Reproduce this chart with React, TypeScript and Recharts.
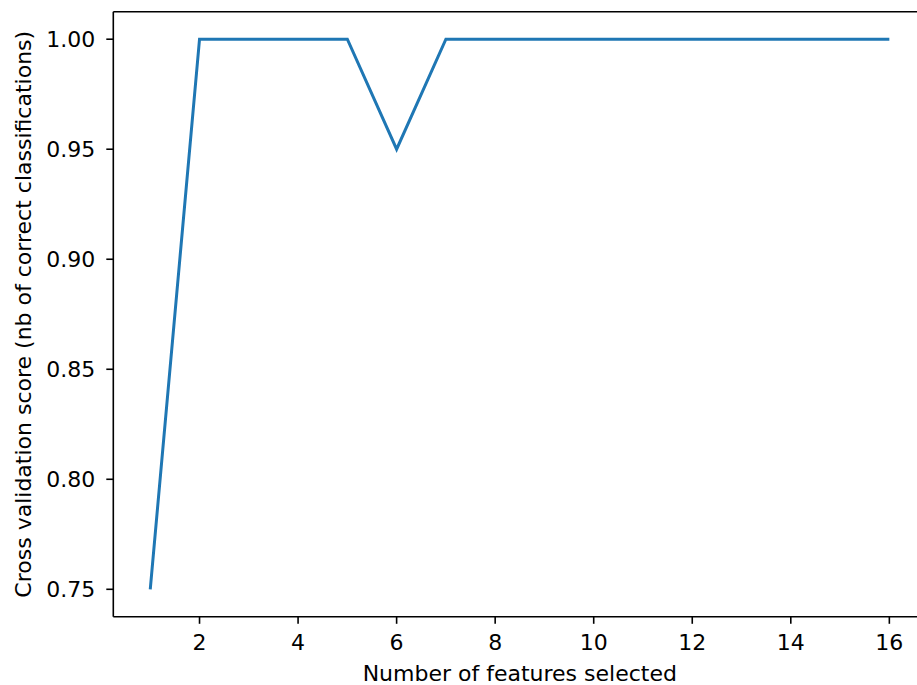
import React from 'react';
import { LineChart, Line, XAxis, YAxis, ReferenceLine } from 'recharts';

// Number of features kept at each step of the elimination
const featureCounts = [1, 2, 3, 4, 5, 6, 7, 8, 9, 10, 11, 12, 13, 14, 15, 16];
// Mean cross-validation score for each feature count
const cvScores = [0.75, 1.0, 1.0, 1.0, 1.0, 0.95, 1.0, 1.0, 1.0, 1.0, 1.0, 1.0, 1.0, 1.0, 1.0, 1.0];

const xTicks = [2, 4, 6, 8, 10, 12, 14, 16];
const yTicks = [0.75, 0.8, 0.85, 0.9, 0.95, 1.0];

const xDomain: [number, number] = [0.25, 16.75];
const yDomain: [number, number] = [0.7375, 1.0125];

const xLabel = 'Number of features selected';
const yLabel = 'Cross validation score (nb of correct classifications)';

const data = featureCounts.map((n, i) => ({ n, score: cvScores[i] }));

const FONT = "'DejaVu Sans', sans-serif";
const FONT_SIZE = 22;
const tickStyle = { fontSize: FONT_SIZE, fill: '#000', fontFamily: FONT };
const axisStroke = { stroke: '#000', strokeWidth: 1.6 };

const CHART_W = 940;
const CHART_H = 685;
const PLOT_TOP = 11.7;
const PLOT_LEFT = 113.3;
const PLOT_RIGHT = 926.3;
const PLOT_BOTTOM = 616.8;

const XAxisTitle = (props: any) => {
  const vb = props.viewBox || {};
  return (
    <text
      x={vb.x + vb.width / 2}
      y={vb.y + 64}
      textAnchor="middle"
      fontSize={FONT_SIZE}
      fontFamily={FONT}
      fill="#000"
    >
      {xLabel}
    </text>
  );
};

const YAxisTitle = () => {
  const cx = 31;
  const cy = (PLOT_TOP + PLOT_BOTTOM) / 2;
  return (
    <text
      x={cx}
      y={cy}
      transform={`rotate(-90, ${cx}, ${cy})`}
      textAnchor="middle"
      fontSize={FONT_SIZE}
      fontFamily={FONT}
      fill="#000"
    >
      {yLabel}
    </text>
  );
};

export default function App() {
  return (
    <div
      style={{
        position: 'fixed',
        left: 0,
        top: 0,
        width: 917,
        height: 685,
        overflow: 'hidden',
        background: '#fff',
      }}
    >
      <LineChart
        width={CHART_W}
        height={CHART_H}
        data={data}
        margin={{ top: PLOT_TOP, right: CHART_W - PLOT_RIGHT, bottom: 0, left: 0 }}
      >
        <XAxis
          dataKey="n"
          type="number"
          domain={xDomain}
          ticks={xTicks}
          allowDataOverflow
          height={CHART_H - PLOT_BOTTOM}
          tickSize={7}
          tickMargin={11}
          tick={tickStyle}
          axisLine={axisStroke}
          tickLine={axisStroke}
          label={<XAxisTitle />}
        />
        <YAxis
          type="number"
          domain={yDomain}
          ticks={yTicks}
          allowDataOverflow
          width={PLOT_LEFT}
          tickSize={7}
          tickMargin={11}
          tick={tickStyle}
          tickFormatter={(v: number) => v.toFixed(2)}
          axisLine={axisStroke}
          tickLine={axisStroke}
          label={<YAxisTitle />}
        />
        <ReferenceLine y={yDomain[1]} stroke="#000" strokeWidth={1.6} />
        <ReferenceLine x={xDomain[1]} stroke="#000" strokeWidth={1.6} />
        <Line
          type="linear"
          dataKey="score"
          stroke="#1f77b4"
          strokeWidth={3}
          dot={false}
          activeDot={false}
          isAnimationActive={false}
        />
      </LineChart>
    </div>
  );
}
